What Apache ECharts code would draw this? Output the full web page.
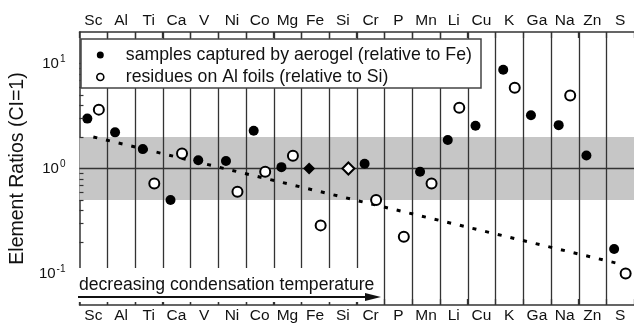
<!DOCTYPE html>
<html>
<head>
<meta charset="utf-8">
<script src="https://cdn.jsdelivr.net/npm/echarts@6/dist/echarts.min.js"></script>
<style>
  html, body { margin: 0; padding: 0; background: #fff; }
  #chart { width: 634px; height: 324px; }
</style>
</head>
<body>
<div id="chart"></div>
<script>
// Elements, ordered by decreasing condensation temperature
const elements = ['Sc', 'Al', 'Ti', 'Ca', 'V', 'Ni', 'Co', 'Mg', 'Fe', 'Si',
                  'Cr', 'P', 'Mn', 'Li', 'Cu', 'K', 'Ga', 'Na', 'Zn', 'S'];

// Aerogel samples, normalised to Fe and CI (null = not measured)
const aerogel = [2.99, 2.21, 1.53, 0.50, 1.20, 1.18, 2.29, 1.03, 1.00, null,
                 1.11, null, 0.93, 1.87, 2.56, 8.74, 3.22, 2.59, 1.33, 0.171];
// Al-foil residues, normalised to Si and CI
const foils = [3.64, null, 0.72, 1.39, null, 0.60, 0.93, 1.32, 0.287, 1.00,
               0.50, 0.224, 0.72, 3.80, null, 5.87, null, 4.97, null, 0.100];

const aerogelRef = 'Fe';
const foilsRef = 'Si';

// Volatility trend (end points)
const trend = [['Sc', 2.0], ['S', 0.123]];

// CI-like band and the CI = 1 reference
const band = [0.5, 2];
const ciLevel = 1;

// Log axis decorations
const majorTicks = [0.1, 1, 10];
const minorTicks = [0.06, 0.07, 0.08, 0.09,
                    0.2, 0.3, 0.4, 0.5, 0.6, 0.7, 0.8, 0.9,
                    2, 3, 4, 5, 6, 7, 8, 9];

const nameAerogel = 'samples captured by aerogel (relative to Fe)';
const nameFoils = 'residues on Al foils (relative to Si)';
const arrowText = 'decreasing condensation temperature';

const FONT = '"Liberation Sans", Arial, Helvetica, sans-serif';
const INK = '#111';
const LINE = '#333';

const chart = echarts.init(document.getElementById('chart'), null, { renderer: 'canvas' });

function pointData(values, refName, size) {
  return values.map((v, i) => {
    if (v == null) return '-';
    const isRef = elements[i] === refName;
    return { value: v, symbol: isRef ? 'diamond' : 'circle', symbolSize: isRef ? 12 : size };
  });
}

const xAxisBase = {
  type: 'category',
  data: elements,
  boundaryGap: true,
  axisLine: { show: true, lineStyle: { color: LINE, width: 1.5 } },
  axisTick: { show: true, inside: true, length: 6, interval: 0, lineStyle: { color: LINE, width: 1.3 } },
  axisLabel: { interval: 0, margin: 3, fontSize: 15.5, color: INK, fontFamily: FONT },
  splitLine: { show: false }
};

const option = {
  animation: false,
  backgroundColor: '#fff',
  grid: { left: 68, right: -8, top: 32, bottom: 16, containLabel: false },
  xAxis: [
    Object.assign({}, xAxisBase, { position: 'bottom' }),
    Object.assign({}, xAxisBase, { position: 'top' })
  ],
  yAxis: {
    type: 'log',
    logBase: 10,
    min: 0.05,
    max: 20,
    name: 'Element Ratios (CI=1)',
    nameLocation: 'middle',
    nameGap: 37,
    nameTextStyle: { fontSize: 19.5, color: INK, fontFamily: FONT },
    axisLine: { show: true, lineStyle: { color: LINE, width: 1.5 } },
    axisTick: { show: true, inside: true, length: 7, lineStyle: { color: LINE, width: 1.3 } },
    splitLine: { show: false },
    axisLabel: {
      margin: 14,
      showMinLabel: false,
      showMaxLabel: false,
      fontFamily: FONT,
      formatter: function (v) {
        const e = Math.round(Math.log10(v));
        const hit = majorTicks.some(t => Math.abs(Math.log10(t) - Math.log10(v)) < 1e-6);
        return hit ? '{b|10}{s|' + e + '}' : '';
      },
      rich: {
        b: { fontSize: 15, color: INK, fontFamily: FONT },
        s: { fontSize: 10, color: INK, fontFamily: FONT, verticalAlign: 'top', padding: [0, 0, 8, 1] }
      }
    }
  },
  legend: {
    orient: 'vertical',
    left: 96,
    top: 45,
    z: 10,
    padding: 0,
    itemWidth: 7,
    itemHeight: 7,
    itemGap: 2,
    selectedMode: false,
    textStyle: { fontSize: 17.7, color: INK, fontFamily: FONT, lineHeight: 20, padding: [0, 0, 0, 17] },
    data: [
      { name: nameAerogel, icon: 'circle' },
      { name: nameFoils, icon: 'circle', itemStyle: { borderWidth: 1.6 } }
    ]
  },
  graphic: [
    { type: 'rect', z: 8, shape: { x: 81, y: 39, width: 400, height: 49 },
      style: { fill: '#fff', stroke: '#444', lineWidth: 1.5 } },
    { type: 'rect', z: 8, shape: { x: 76, y: 268, width: 305, height: 34 },
      style: { fill: '#fff' } },
    { type: 'text', z: 9, x: 79, y: 285,
      style: { text: arrowText, fill: INK, font: '17.6px ' + FONT, verticalAlign: 'middle', align: 'left' } },
    { type: 'line', z: 9, shape: { x1: 78, y1: 297, x2: 368, y2: 297 },
      style: { stroke: INK, lineWidth: 2 } },
    { type: 'polygon', z: 9, shape: { points: [[365, 293], [381, 297], [365, 301]] },
      style: { fill: INK } }
  ],
  series: [
    {
      // grey band between 0.5 and 2
      type: 'custom', name: 'band', z: 1, silent: true,
      encode: { x: 0, y: [1, 2] },
      data: [[0, band[0], band[1]]],
      renderItem: function (params, api) {
        const cs = params.coordSys;
        const yHi = api.coord([0, api.value(2)])[1];
        const yLo = api.coord([0, api.value(1)])[1];
        return { type: 'rect', shape: { x: cs.x, y: yHi, width: cs.width, height: yLo - yHi },
                 style: { fill: '#c6c6c6' } };
      }
    },
    {
      // separators between elements
      type: 'custom', name: 'separators', z: 2, silent: true,
      encode: { x: 0, y: 1 },
      data: elements.slice(1).map((e, i) => [i + 1, ciLevel]),
      renderItem: function (params, api) {
        const cs = params.coordSys;
        const w = cs.width / elements.length;
        const c = api.coord([api.value(0), api.value(1)]);
        const x = Math.round(c[0] - w / 2) + 0.5;
        return { type: 'line', shape: { x1: x, y1: cs.y, x2: x, y2: cs.y + cs.height },
                 style: { stroke: LINE, lineWidth: 1.3 } };
      }
    },
    {
      // CI = 1 reference line
      type: 'custom', name: 'ci', z: 2, silent: true,
      encode: { x: 0, y: 1 },
      data: [[0, ciLevel]],
      renderItem: function (params, api) {
        const cs = params.coordSys;
        const y = api.coord([0, api.value(1)])[1];
        return { type: 'line', shape: { x1: cs.x, y1: y, x2: cs.x + cs.width, y2: y },
                 style: { stroke: LINE, lineWidth: 1.6 } };
      }
    },
    {
      // minor log ticks on the left axis
      type: 'custom', name: 'minor', z: 6, silent: true,
      encode: { x: 0, y: 1 },
      data: minorTicks.map(v => [0, v]),
      renderItem: function (params, api) {
        const cs = params.coordSys;
        const y = Math.round(api.coord([0, api.value(1)])[1]) + 0.5;
        return { type: 'line', shape: { x1: cs.x, y1: y, x2: cs.x + 4, y2: y },
                 style: { stroke: LINE, lineWidth: 1.2 } };
      }
    },
    {
      type: 'line', name: 'trend', z: 3, silent: true,
      data: trend.map(p => [elements.indexOf(p[0]), p[1]]),
      symbol: 'none',
      lineStyle: { color: '#000', width: 3, type: [4, 9] }
    },
    {
      type: 'scatter', name: nameAerogel, z: 4,
      data: pointData(aerogel, aerogelRef, 10),
      symbolOffset: [-6, 0],
      itemStyle: { color: '#000', opacity: 1 }
    },
    {
      type: 'scatter', name: nameFoils, z: 4,
      data: pointData(foils, foilsRef, 10),
      symbolOffset: [5.5, 0],
      itemStyle: { color: '#fff', borderColor: '#000', borderWidth: 2, opacity: 1 }
    }
  ]
};

chart.setOption(option);
</script>
</body>
</html>
